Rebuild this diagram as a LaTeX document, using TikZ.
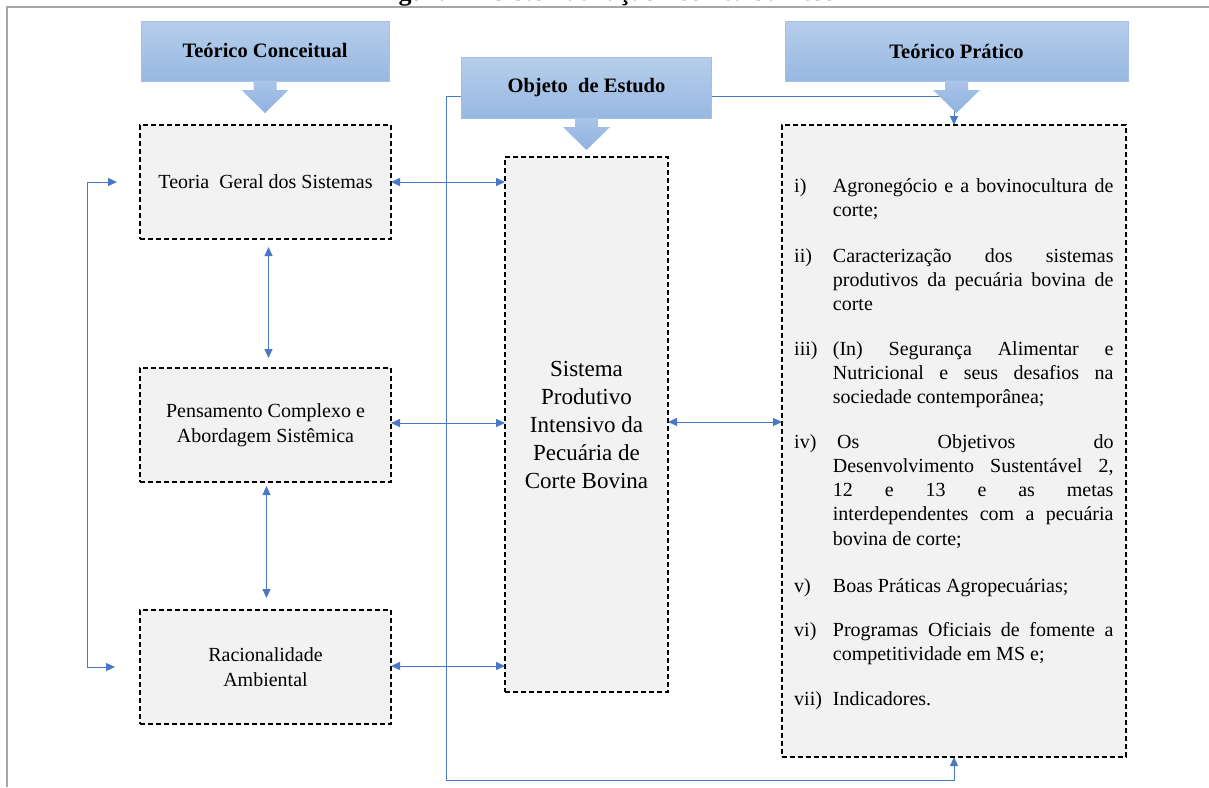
\documentclass[tikz,border=0pt]{standalone}
\usepackage{fontspec}
\setmainfont{Liberation Serif}
\usetikzlibrary{arrows.meta,calc}
\pgfdeclarelayer{background}
\pgfsetlayers{background,main}

\definecolor{boxgray}{HTML}{F2F2F2}
\definecolor{hdrtop}{HTML}{B7CEEB}
\definecolor{hdrbot}{HTML}{97B8E1}
\definecolor{hdrline}{HTML}{A3C0E6}
\definecolor{arrtop}{HTML}{A9C5E8}
\definecolor{arrbot}{HTML}{8FB2DF}
\definecolor{linkblue}{HTML}{4A78C8}
\definecolor{framegray}{HTML}{A6A6A6}

\newcommand\bodyfont{\fontsize{20}{25}\selectfont}
\newcommand\listfont{\fontsize{20}{24.25}\selectfont}
\newcommand\coreFont{\fontsize{23}{28}\selectfont}
\newcommand\hdrFont{\fontsize{20.5}{24}\selectfont\bfseries}
\newcommand\ttlFont{\fontsize{26}{30}\selectfont\bfseries}
\newlength\itw
\setlength\itw{280.6pt}
% justified line / last line of a list item
\newcommand\jl[1]{\hbox to\itw{#1}}
\newcommand\lastln[1]{\hbox{#1}}
\newcommand\itemtext[1]{\vtop{\hsize=\itw\baselineskip=24.25pt #1}}

\tikzset{
  dbox/.style={draw=black, dash pattern=on 5pt off 3pt, line width=1.3pt,
    fill=boxgray, inner sep=0pt, outer sep=0pt, align=center},
  hdr/.style={draw=hdrline, line width=0.8pt, top color=hdrtop, bottom color=hdrbot,
    inner sep=0pt, outer sep=0pt, font=\hdrFont},
  barrow/.style={top color=arrtop, bottom color=arrbot, draw=none},
  dlink/.style={draw=linkblue, line width=0.9pt,
    arrows={Triangle[length=9pt,width=8pt]-Triangle[length=9pt,width=8pt]}},
  lbl/.style={inner sep=0pt, anchor=base west, font=\listfont},
}

% downward block arrow below a header node
\newcommand\blockdown[1]{%
  \path[barrow] ($(#1.south)+(-11.5,-0.5)$) -- ++(0,9.5) -- ++(-12,0)
    -- ($(#1.south)+(0,32)$) -- ($(#1.south)+(23.5,9)$) -- ++(-12,0)
    -- ($(#1.south)+(11.5,-0.5)$) -- cycle;}

\begin{document}
\begin{tikzpicture}[x=1pt,y=-1pt]
\clip (0,0) rectangle (1209,787);
\useasboundingbox (0,0) rectangle (1209,787);

% page frame and caption
\draw[framegray, line width=1.5pt] (7,787) -- (7,7) -- (1209,7);
\node[font=\ttlFont, anchor=base, inner sep=0pt] (ttl) at (605,1)
  {Figura 1 - Sistematização Teórica da Tese};

% header boxes
\node[hdr, minimum width=248pt, minimum height=60pt] (hc) at (265,51) {Teórico Conceitual};
\node[hdr, minimum width=250pt, minimum height=61pt] (ho) at (586.5,87.5) {Objeto\ \ de Estudo};
\node[hdr, minimum width=343pt, minimum height=60pt] (hp) at (956.5,51) {Teórico Prático};

% content boxes
\node[dbox, minimum width=251pt, minimum height=114pt, font=\bodyfont] (tgs) at (265.5,182)
  {Teoria\ \ Geral dos Sistemas};
\node[dbox, minimum width=251pt, minimum height=114pt, font=\bodyfont] (pen) at (265.5,425)
  {Pensamento Complexo e\\Abordagem Sistêmica};
\node[dbox, minimum width=251pt, minimum height=114pt, font=\bodyfont] (rac) at (265.5,667)
  {Racionalidade\\Ambiental};
\node[dbox, minimum width=163pt, minimum height=535pt, font=\coreFont] (cen) at (586.5,424.5)
  {Sistema\\Produtivo\\Intensivo da\\Pecuária de\\Corte Bovina};
\node[dbox, minimum width=344pt, minimum height=632pt] (pra) at (954,441) {};

% list inside the right box
\node[lbl] (l1) at (794,192) {i)};
\node[lbl] (t1) at (832.7,192) {\itemtext{\jl{Agronegócio e a bovinocultura de}\lastln{corte;}}};
\node[lbl] (l2) at (794,262) {ii)};
\node[lbl] (t2) at (832.7,262) {\itemtext{\jl{Caracterização dos sistemas}\jl{produtivos da pecuária bovina de}\lastln{corte}}};
\node[lbl] (l3) at (794,355) {iii)};
\node[lbl] (t3) at (832.7,355) {\itemtext{\jl{(In) Segurança Alimentar e}\jl{Nutricional e seus desafios na}\lastln{sociedade contemporânea;}}};
\node[lbl] (l4) at (794,448) {iv)};
\node[lbl] (t4) at (832.7,448) {\itemtext{\jl{\kern4.3pt Os Objetivos do}\jl{Desenvolvimento Sustentável 2,}\jl{12 e 13 e as metas}\jl{interdependentes com a pecuária}\lastln{bovina de corte;}}};
\node[lbl] (l5) at (794,592) {v)};
\node[lbl] (t5) at (832.7,592) {\itemtext{\lastln{Boas Práticas Agropecuárias;}}};
\node[lbl] (l6) at (794,636) {vi)};
\node[lbl] (t6) at (832.7,636) {\itemtext{\jl{Programas Oficiais de fomente a}\lastln{competitividade em MS e;}}};
\node[lbl] (l7) at (794,705) {vii)};
\node[lbl] (t7) at (832.7,705) {\itemtext{\lastln{Indicadores.}}};

% block arrows below the headers
\blockdown{hc}
\blockdown{ho}
\blockdown{hp}

% connectors
\draw[dlink] (tgs.east) -- (tgs.east -| cen.west);
\draw[dlink] ([yshift=2pt]pen.east) -- ([yshift=2pt]pen.east -| cen.west);
\draw[dlink] ([yshift=1pt]rac.east) -- ([yshift=1pt]rac.east -| cen.west);
\draw[dlink] ([yshift=2.5pt]cen.east) -- ([yshift=2.5pt]cen.east -| pra.west);
\draw[dlink, shorten <=8pt, shorten >=10pt] ([xshift=3pt]tgs.south) -- ([xshift=3pt]tgs.south |- pen.north);
\draw[dlink, shorten <=4pt, shorten >=12pt] ([xshift=1pt]pen.south) -- ([xshift=1pt]pen.south |- rac.north);
\draw[dlink] ([xshift=-23pt]tgs.west) -- ++(-30,0) |- ([xshift=-25pt]rac.west);

\begin{pgfonlayer}{background}
\coordinate (ol) at (446,96);
\coordinate (ob) at (446,780);
\draw[dlink] (pra.north) |- (ol) -- (ob) -| (pra.south);
\end{pgfonlayer}
\end{tikzpicture}
\end{document}
